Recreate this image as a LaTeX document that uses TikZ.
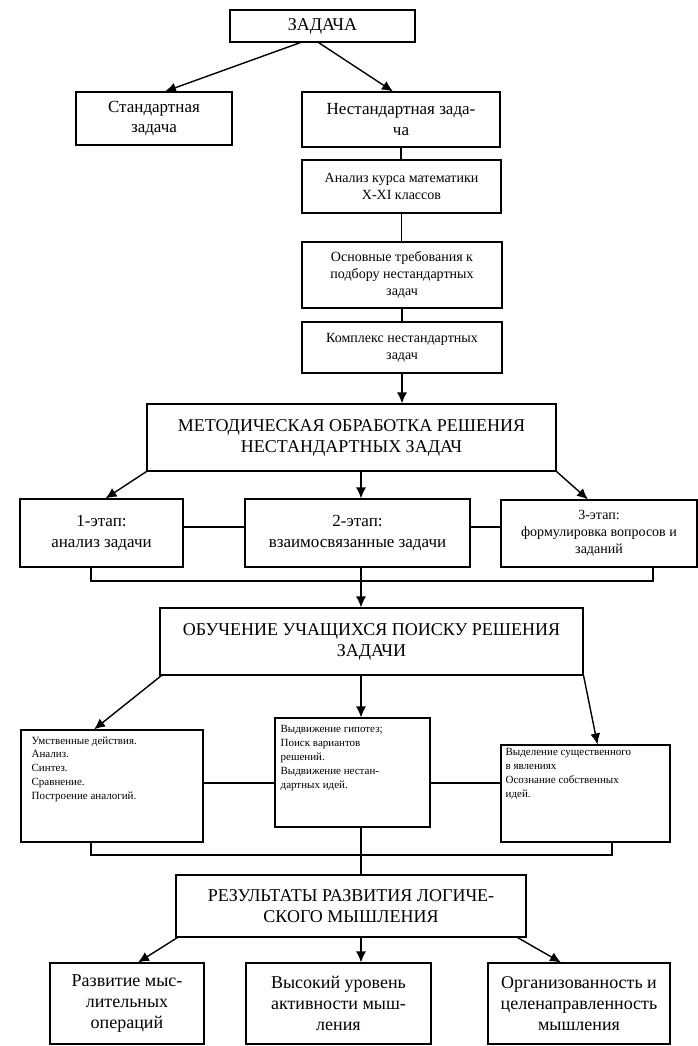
\documentclass[tikz,border=0pt]{standalone}
\usepackage{fontspec}
\setmainfont{Liberation Serif}
\usetikzlibrary{arrows.meta,calc}
\newcommand{\fntcap}{\fontsize{18}{21}\selectfont}
\newcommand{\fntbig}{\fontsize{17}{20.5}\selectfont}
\newcommand{\fntmid}{\fontsize{14}{17}\selectfont}
\newcommand{\fntsmall}{\fontsize{11}{13.8}\selectfont}

\begin{document}
\begin{tikzpicture}[x=1pt,y=-1pt,
  box/.style={draw,line width=1.1pt,align=center,inner sep=0pt},
  note/.style={align=left,inner sep=0pt,anchor=north west,font=\fntsmall},
  arr/.style={line width=1.4pt,-{Latex[length=11pt,width=10pt]}},
  ln/.style={line width=1.1pt}]
  \useasboundingbox (0,0) rectangle (698,1046);
  \coordinate (spine) at (361,0);
  % task and its two kinds
  \node[box,font=\fntcap,minimum width=185pt,minimum height=32pt] (task) at (322.5,26) {ЗАДАЧА};
  \node[box,font=\fntbig,minimum width=156pt,minimum height=53pt] (std) at (154,118.5) {Стандартная\\задача};
  \node[box,font=\fntbig,minimum width=198pt,minimum height=55pt] (nstd) at (401,119.5) {Нестандартная зада-\\ча};
  \draw[arr] ([xshift=-22pt]task.south) -- ([xshift=11pt]std.north);
  \draw[arr] ([xshift=-4pt]task.south) -- ([xshift=-8pt]nstd.north);
  % column under the non-standard task
  \node[box,font=\fntmid,minimum width=199pt,minimum height=53pt] (anl) at (401.5,186.5) {Анализ курса математики\\X-XI классов};
  \node[box,font=\fntmid,minimum width=200pt,minimum height=66pt] (req) at (402,275) {Основные требования к\\подбору нестандартных\\задач};
  \node[box,font=\fntmid,minimum width=200pt,minimum height=51pt] (cmpl) at (402,347.5) {Комплекс нестандартных\\задач};
  \draw[ln] (nstd.south) -- (nstd.south |- anl.north);
  \draw[ln] (anl.south) -- (anl.south |- req.north);
  \draw[ln] (req.south) -- (req.south |- cmpl.north);
  % methodical processing
  \node[box,font=\fntcap,minimum width=409pt,minimum height=67pt] (meth) at (351.5,437.5) {МЕТОДИЧЕСКАЯ ОБРАБОТКА РЕШЕНИЯ\\НЕСТАНДАРТНЫХ ЗАДАЧ};
  \draw[arr] (cmpl.south) -- (cmpl.south |- meth.north);
  \node[box,font=\fntbig,minimum width=163pt,minimum height=68pt] (st1) at (101.5,533) {1-этап:\\анализ задачи};
  \node[box,font=\fntbig,minimum width=225pt,minimum height=68pt] (st2) at (357.5,533) {2-этап:\\взаимосвязанные задачи};
  \node[box,font=\fntmid,minimum width=196pt,minimum height=67pt] (st3) at (599,533.5) {3-этап:\\формулировка вопросов и\\заданий};
  \draw[arr] (meth.south west) -- ([xshift=4pt]st1.north);
  \draw[arr] (spine |- meth.south) -- (spine |- st2.north);
  \draw[arr] (meth.south east) -- ([xshift=-11pt]st3.north);
  \coordinate (hs) at (0,527);
  \draw[ln] (hs -| st1.east) -- (hs -| st2.west);
  \draw[ln] (hs -| st2.east) -- (hs -| st3.west);
  \coordinate (bl) at (91,581);
  \coordinate (br) at (653,581);
  \draw[ln] (bl |- st1.south) -- (bl) -- (br) -- (br |- st3.south);
  % teaching the search for a solution
  \node[box,font=\fntcap,minimum width=423pt,minimum height=67pt] (teach) at (371.5,641.5) {ОБУЧЕНИЕ УЧАЩИХСЯ ПОИСКУ РЕШЕНИЯ\\ЗАДАЧИ};
  \draw[arr] (spine |- st2.south) -- (spine |- teach.north);
  \node[box,minimum width=182pt,minimum height=112pt] (m1) at (112,786) {};
  \node[box,minimum width=155pt,minimum height=109pt] (m2) at (352.5,772.5) {};
  \node[box,minimum width=169pt,minimum height=97pt] (m3) at (585.5,793.5) {};
  \node[note] (m1t) at ([xshift=11pt,yshift=-7pt]m1.north west) {Умственные действия.\\Анализ.\\Синтез.\\Сравнение.\\Построение аналогий.};
  \node[note] (m2t) at ([xshift=6pt,yshift=-8pt]m2.north west) {Выдвижение гипотез;\\Поиск вариантов\\решений.\\Выдвижение нестан-\\дартных идей.};
  \node[note] (m3t) at ([xshift=5pt,yshift=-4pt]m3.north west) {Выделение существенного\\в явлениях\\Осознание собственных\\идей.};
  \draw[arr] ([xshift=2pt]teach.south west) -- ([xshift=-18pt]m1.north);
  \draw[arr] (spine |- teach.south) -- (spine |- m2.north);
  \draw[arr] (teach.south east) -- ([xshift=12pt]m3.north);
  \coordinate (hm) at (0,783);
  \draw[ln] (hm -| m1.east) -- (hm -| m2.west);
  \draw[ln] (hm -| m2.east) -- (hm -| m3.west);
  \coordinate (ml) at (91,855);
  \coordinate (mr) at (612,855);
  \draw[ln] (ml |- m1.south) -- (ml) -- (mr) -- (mr |- m3.south);
  % results
  \node[box,font=\fntcap,minimum width=350pt,minimum height=62pt] (res) at (351,906) {РЕЗУЛЬТАТЫ РАЗВИТИЯ ЛОГИЧЕ-\\СКОГО МЫШЛЕНИЯ};
  \draw[ln] (spine |- m2.south) -- (spine |- res.north);
  \node[box,font=\fntcap,minimum width=154pt,minimum height=81pt] (r1) at (127,1003.5) {Развитие мыс-\\лительных\\операций};
  \node[box,font=\fntcap,minimum width=185pt,minimum height=81pt] (r2) at (338.5,1003.5) {Высокий уровень\\активности мыш-\\ления};
  \node[box,font=\fntcap,minimum width=182pt,minimum height=81pt] (r3) at (579,1003.5) {Организованность и\\целенаправленность\\мышления};
  \draw[arr] ([xshift=2pt]res.south west) -- ([xshift=11pt]r1.north);
  \draw[arr] (spine |- res.south) -- (spine |- r2.north);
  \draw[arr] ([xshift=-9pt]res.south east) -- ([xshift=-18pt]r3.north);
\end{tikzpicture}
\end{document}
